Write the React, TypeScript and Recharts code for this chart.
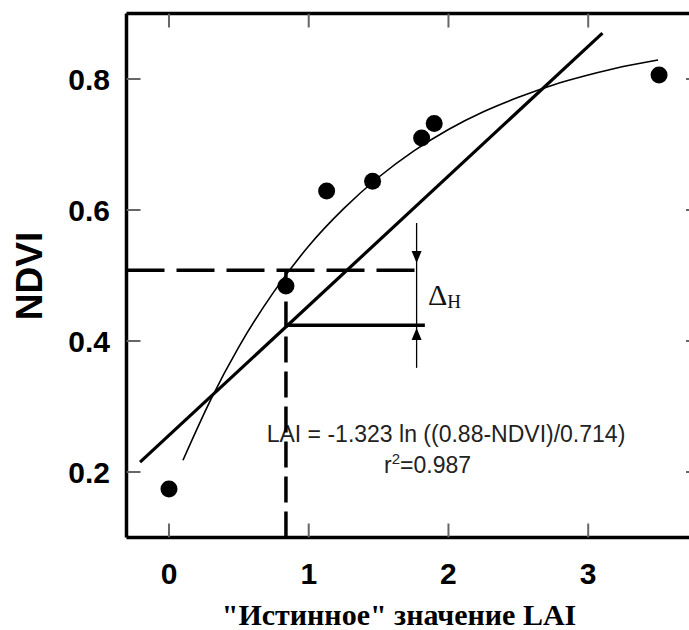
import React from 'react';
import { ComposedChart, Line, Scatter, XAxis, YAxis } from 'recharts';

// measured points ("true" LAI vs NDVI)
const measuredLai = [0, 0.837, 1.128, 1.457, 1.808, 1.898, 3.507];
const measuredNdvi = [0.174, 0.484, 0.629, 0.644, 0.71, 0.732, 0.806];

// fitted curve
const curveLai = [0.1, 0.3, 0.5, 0.75, 1.0, 1.25, 1.5, 1.75, 2.0, 2.25, 2.5, 2.75, 3.0, 3.25, 3.5];
const curveNdvi = [0.218, 0.311, 0.391, 0.475, 0.545, 0.602, 0.65, 0.69, 0.723, 0.75, 0.772, 0.791, 0.806, 0.819, 0.829];

// straight regression line
const lineLai = [-0.207, 3.102];
const lineNdvi = [0.215, 0.87];

// construction lines
const dashedHLai = [-0.304, 1.831];
const dashedHNdvi = [0.508, 0.508];
const dashedVLai = [0.837, 0.837];
const dashedVNdvi = [0.1, 0.508];
const solidHLai = [0.837, 1.831];
const solidHNdvi = [0.424, 0.424];
const deltaLai = [1.772, 1.772];
const deltaNdvi = [0.58, 0.359];
const arrowLai = [1.772, 1.772];
const arrowNdvi = [0.519, 0.42];
const arrowDir = ['down', 'up'];

const xTicks = [0, 1, 2, 3];
const yTicks = [0.2, 0.4, 0.6, 0.8];
const xDomain = [-0.304, 3.8];
const yDomain = [0.1, 0.9];

const zip = (xs: number[], ys: number[]) => xs.map((x, i) => ({ x, y: ys[i] }));

const points = zip(measuredLai, measuredNdvi);
const curve = zip(curveLai, curveNdvi);
const regLine = zip(lineLai, lineNdvi);
const dashedH = zip(dashedHLai, dashedHNdvi);
const dashedV = zip(dashedVLai, dashedVNdvi);
const solidH = zip(solidHLai, solidHNdvi);
const deltaLine = zip(deltaLai, deltaNdvi);
const arrows = arrowLai.map((x, i) => ({ x, y: arrowNdvi[i], dir: arrowDir[i] }));

// inward tick marks on all four sides of the frame
const frameTicks = [
  ...xTicks.map((x) => ({ x, y: yDomain[0], dir: 'up' })),
  ...xTicks.map((x) => ({ x, y: yDomain[1], dir: 'down' })),
  ...yTicks.map((y) => ({ x: xDomain[0], y, dir: 'right' })),
  ...yTicks.map((y) => ({ x: xDomain[1], y, dir: 'left' })),
];

const sans = 'Liberation Sans, Arial, sans-serif';
const serif = 'Liberation Serif, Times New Roman, serif';
const TICK_LEN = 14;
const X_MARGIN = 36;
const Y_MARGIN = 29.5;

const Dot = (props: any) => <circle cx={props.cx} cy={props.cy} r={8.5} fill="#000" />;

const ArrowHead = (props: any) => {
  const { cx, cy, payload } = props;
  const s = payload.dir === 'down' ? -1 : 1;
  return <path d={`M${cx},${cy} L${cx - 5},${cy + s * 12} L${cx + 5},${cy + s * 12} Z`} fill="#000" />;
};

const TickMark = (props: any) => {
  const { cx, cy, payload } = props;
  const dx = payload.dir === 'right' ? TICK_LEN : payload.dir === 'left' ? -TICK_LEN : 0;
  const dy = payload.dir === 'up' ? -TICK_LEN : payload.dir === 'down' ? TICK_LEN : 0;
  return <line x1={cx} y1={cy} x2={cx + dx} y2={cy + dy} stroke="#666" strokeWidth={2} />;
};

const BottomLabel = (props: any) => (
  <text x={props.x} y={props.y + 10} textAnchor="middle" fontFamily={sans} fontWeight={700} fontSize={30} fill="#000">
    {props.payload.value}
  </text>
);

const LeftLabel = (props: any) => (
  <text x={props.x + 13} y={props.y + 11} textAnchor="end" fontFamily={sans} fontWeight={700} fontSize={30} fill="#000">
    {props.payload.value}
  </text>
);

const frame = { stroke: '#000', strokeWidth: 3.5 };

export default function App() {
  return (
    <div style={{ position: 'absolute', left: 0, top: 0, width: 689, height: 630, overflow: 'hidden', background: '#fff' }}>
      <ComposedChart width={702} height={630} margin={{ top: 12.5, right: 1, bottom: 32.5, left: 26.5 }}>
        <XAxis
          type="number"
          dataKey="x"
          domain={xDomain}
          allowDataOverflow
          ticks={xTicks}
          height={60}
          tickSize={0}
          tickMargin={X_MARGIN}
          axisLine={frame}
          tickLine={false}
          tick={<BottomLabel />}
        />
        <XAxis
          xAxisId="top"
          orientation="top"
          type="number"
          dataKey="x"
          domain={xDomain}
          allowDataOverflow
          ticks={xTicks}
          height={1}
          tick={false}
          axisLine={frame}
          tickLine={false}
        />
        <YAxis
          type="number"
          dataKey="y"
          domain={yDomain}
          allowDataOverflow
          ticks={yTicks}
          width={100}
          tickSize={0}
          tickMargin={Y_MARGIN}
          axisLine={frame}
          tickLine={false}
          tick={<LeftLabel />}
        />
        <YAxis
          yAxisId="right"
          orientation="right"
          type="number"
          dataKey="y"
          domain={yDomain}
          allowDataOverflow
          ticks={yTicks}
          width={1}
          tick={false}
          axisLine={frame}
          tickLine={false}
        />

        <Scatter data={frameTicks} dataKey="y" shape={TickMark} isAnimationActive={false} />
        <Line data={curve} dataKey="y" type="monotone" stroke="#000" strokeWidth={1.6} dot={false} activeDot={false} isAnimationActive={false} />
        <Line data={regLine} dataKey="y" type="linear" stroke="#000" strokeWidth={3.2} dot={false} activeDot={false} isAnimationActive={false} />
        <Line data={dashedH} dataKey="y" type="linear" stroke="#000" strokeWidth={3.5} strokeDasharray="38 12" dot={false} activeDot={false} isAnimationActive={false} />
        <Line data={dashedV} dataKey="y" type="linear" stroke="#000" strokeWidth={3.5} strokeDasharray="26 9" dot={false} activeDot={false} isAnimationActive={false} />
        <Line data={solidH} dataKey="y" type="linear" stroke="#000" strokeWidth={3.5} dot={false} activeDot={false} isAnimationActive={false} />
        <Line data={deltaLine} dataKey="y" type="linear" stroke="#000" strokeWidth={1.3} dot={false} activeDot={false} isAnimationActive={false} />
        <Scatter data={arrows} dataKey="y" shape={ArrowHead} isAnimationActive={false} />
        <Scatter data={points} dataKey="y" shape={Dot} isAnimationActive={false} />

        <text x={42} y={276} transform="rotate(-90 42 276)" textAnchor="middle" fontFamily={sans} fontWeight={700} fontSize={37} fill="#000">
          NDVI
        </text>
        <text x={399} y={625} textAnchor="middle" fontFamily={serif} fontWeight={700} fontSize={30} fill="#000">
          "Истинное" значение LAI
        </text>
        <text x={446} y={441.7} textAnchor="middle" fontFamily={sans} fontSize={23} fill="#222">
          LAI = -1.323 ln ((0.88-NDVI)/0.714)
        </text>
        <text x={384} y={473} fontFamily={sans} fontSize={23} fill="#222">
          r<tspan fontSize={15} dy={-9}>2</tspan>
          <tspan dy={9}>=0.987</tspan>
        </text>
        <text x={428} y={305} fontFamily={serif} fontSize={30} fill="#111">
          Δ<tspan fontSize={19} dy={3}>H</tspan>
        </text>
      </ComposedChart>
    </div>
  );
}
